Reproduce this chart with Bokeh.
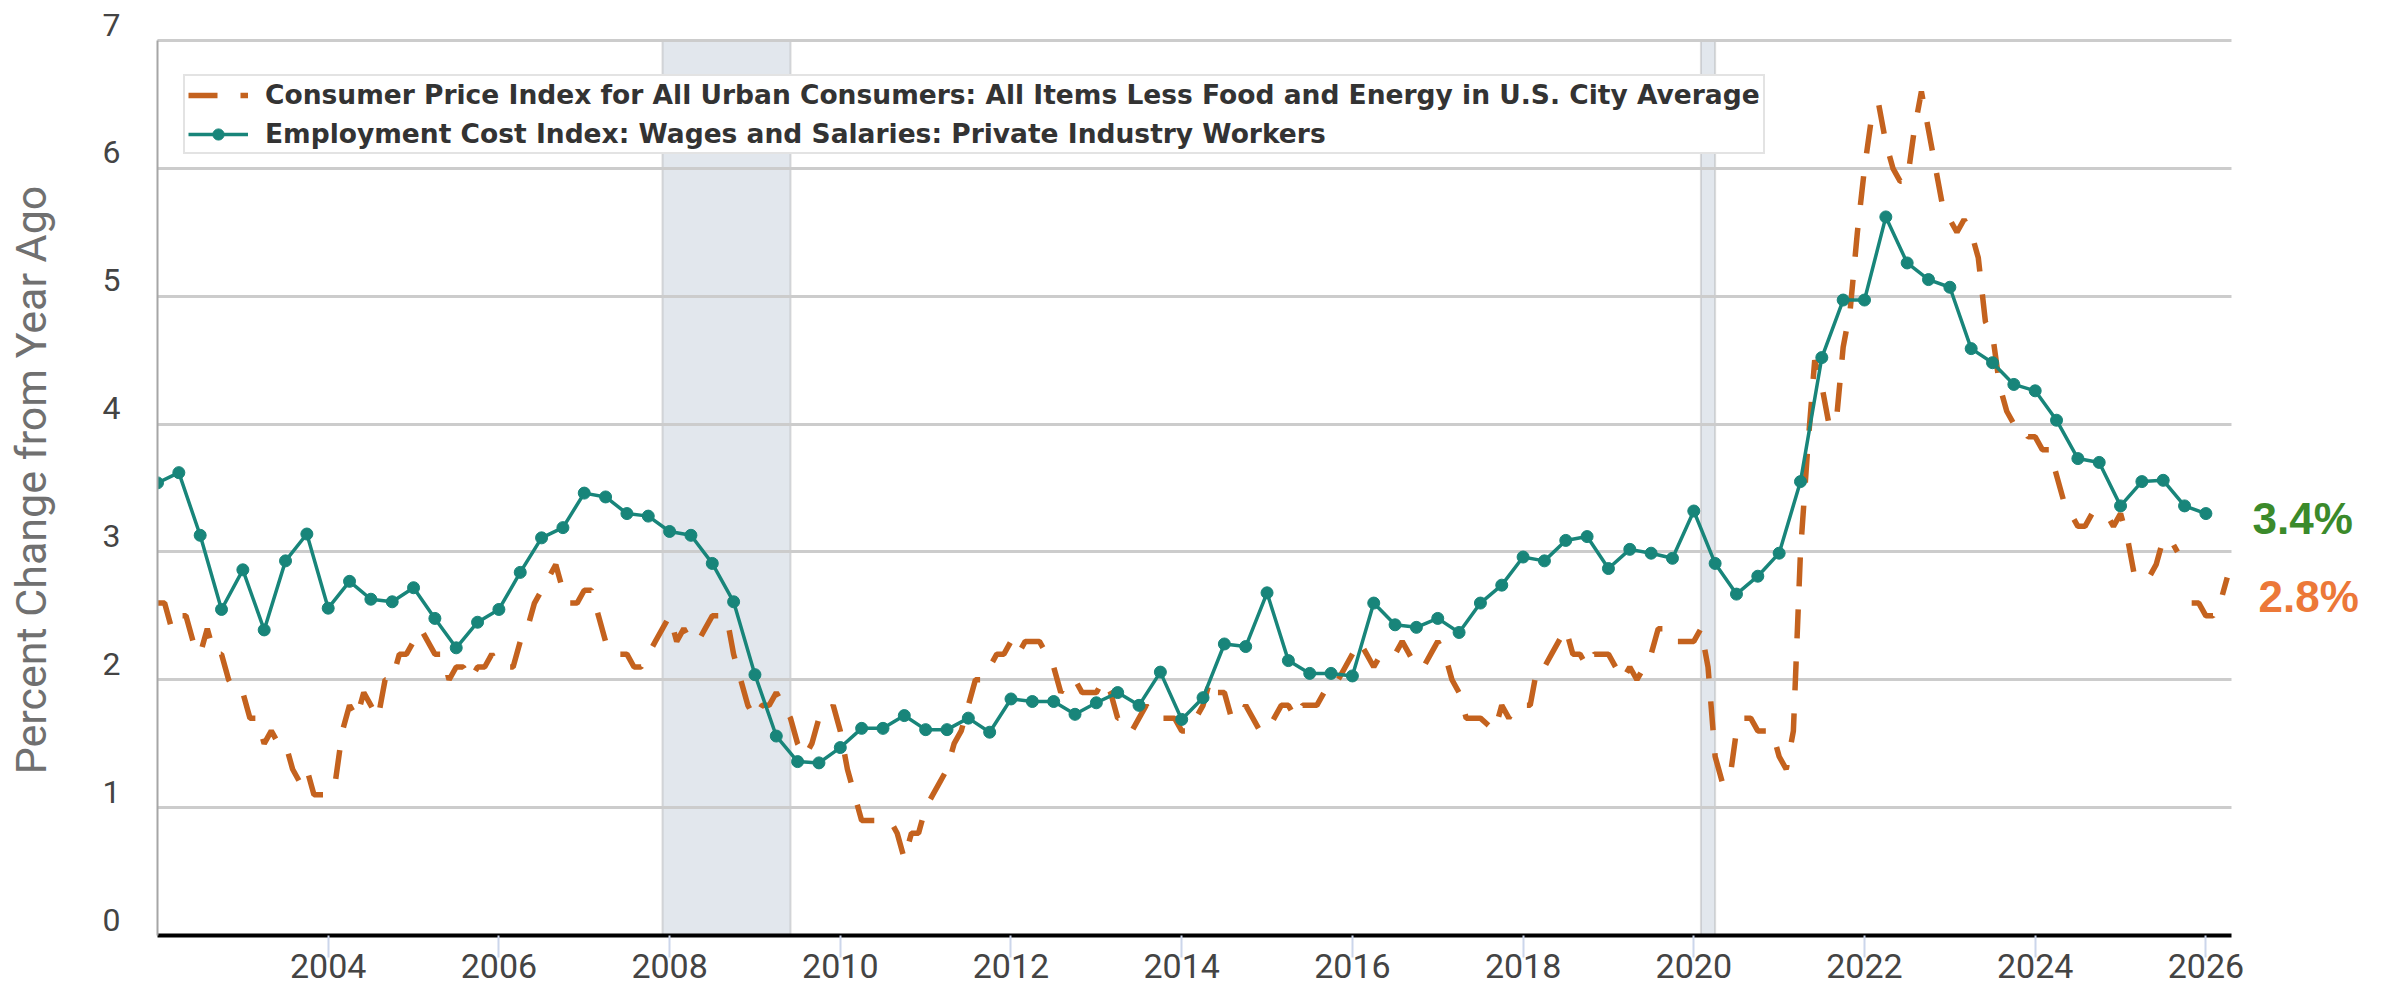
import numpy as np
from bokeh.plotting import figure
from bokeh.models import (Range1d, FixedTicker, BoxAnnotation, Legend, LegendItem,
                          ColumnDataSource, LinearAxis, Span)
from bokeh.core.properties import value
from bokeh.embed import file_html
from bokeh.resources import INLINE

nan = float("nan")

# ---------------- data ----------------
cpi_name = "Consumer Price Index for All Urban Consumers: All Items Less Food and Energy in U.S. City Average"
eci_name = "Employment Cost Index: Wages and Salaries: Private Industry Workers"

cpi_start = 2002  # monthly, from Jan 2002
cpi_values = [
    2.6, 2.6, 2.4, 2.5, 2.5, 2.3, 2.2, 2.4, 2.2, 2.2, 2.0, 1.9,   # 2002
    1.9, 1.7, 1.7, 1.5, 1.6, 1.5, 1.5, 1.3, 1.2, 1.3, 1.1, 1.1,   # 2003
    1.1, 1.2, 1.6, 1.8, 1.7, 1.9, 1.8, 1.7, 2.0, 2.0, 2.2, 2.2,   # 2004
    2.3, 2.4, 2.3, 2.2, 2.2, 2.0, 2.1, 2.1, 2.0, 2.1, 2.1, 2.2,   # 2005
    2.1, 2.1, 2.1, 2.3, 2.4, 2.6, 2.7, 2.8, 2.9, 2.7, 2.6, 2.6,   # 2006
    2.7, 2.7, 2.5, 2.3, 2.2, 2.2, 2.2, 2.1, 2.1, 2.2, 2.3, 2.4,   # 2007
    2.5, 2.3, 2.4, 2.3, 2.3, 2.4, 2.5, 2.5, 2.5, 2.2, 2.0, 1.8,   # 2008
    1.7, 1.8, 1.8, 1.9, 1.8, 1.7, 1.5, 1.4, 1.5, 1.7, 1.7, 1.8,   # 2009
    1.6, 1.3, 1.1, 0.9, 0.9, 0.9, 0.9, 0.9, 0.8, 0.6, 0.8, 0.8,   # 2010
    1.0, 1.1, 1.2, 1.3, 1.5, 1.6, 1.8, 2.0, 2.0, 2.1, 2.2, 2.2,   # 2011
    2.3, 2.2, 2.3, 2.3, 2.3, 2.2, 2.1, 1.9, 2.0, 2.0, 1.9, 1.9,   # 2012
    1.9, 2.0, 1.9, 1.7, 1.7, 1.6, 1.7, 1.8, 1.7, 1.7, 1.7, 1.7,   # 2013
    1.6, 1.6, 1.7, 1.8, 2.0, 1.9, 1.9, 1.7, 1.7, 1.8, 1.7, 1.6,   # 2014
    1.6, 1.7, 1.8, 1.8, 1.7, 1.8, 1.8, 1.8, 1.9, 1.9, 2.0, 2.1,   # 2015
    2.2, 2.3, 2.2, 2.1, 2.2, 2.2, 2.2, 2.3, 2.2, 2.1, 2.1, 2.2,   # 2016
    2.3, 2.2, 2.0, 1.9, 1.7, 1.7, 1.7, 1.65, 1.6, 1.8, 1.7, 1.8,  # 2017
    1.8, 1.8, 2.1, 2.1, 2.2, 2.3, 2.4, 2.2, 2.2, 2.1, 2.2, 2.2,   # 2018
    2.2, 2.1, 2.0, 2.1, 2.0, 2.1, 2.2, 2.4, 2.4, 2.3, 2.3, 2.3,   # 2019
    2.3, 2.4, 2.1, 1.4, 1.2, 1.2, 1.6, 1.7, 1.7, 1.6, 1.6, 1.6,   # 2020
    1.4, 1.3, 1.6, 3.0, 3.8, 4.5, 4.3, 4.0, 4.0, 4.6, 4.9, 5.5,   # 2021
    6.0, 6.4, 6.5, 6.2, 6.0, 5.9, 5.9, 6.3, 6.6, 6.3, 6.0, 5.7,   # 2022
    5.6, 5.5, 5.6, 5.5, 5.3, 4.8, 4.7, 4.3, 4.1, 4.0, 4.0, 3.9,   # 2023
    3.9, 3.8, 3.8, 3.6, 3.4, 3.3, 3.2, 3.2, 3.3, 3.3, 3.3, 3.2,   # 2024
    3.3, 3.1, 2.8, 2.8, 2.8, 2.9, 3.1, 3.1, 3.0, nan, 2.6, 2.6,   # 2025
    2.5, 2.5, 2.6, 2.8,                                           # 2026
]

eci_start = 2002  # quarterly, from Q1 2002
eci_values = [
    3.54, 3.62, 3.13, 2.55,  # 2002
    2.86, 2.39, 2.93, 3.14,  # 2003
    2.56, 2.77, 2.63, 2.61,  # 2004
    2.72, 2.48, 2.25, 2.45,  # 2005
    2.55, 2.84, 3.11, 3.19,  # 2006
    3.46, 3.43, 3.30, 3.28,  # 2007
    3.16, 3.13, 2.91, 2.61,  # 2008
    2.04, 1.56, 1.36, 1.35,  # 2009
    1.47, 1.62, 1.62, 1.72,  # 2010
    1.61, 1.61, 1.70, 1.59,  # 2011
    1.85, 1.83, 1.83, 1.73,  # 2012
    1.82, 1.90, 1.80, 2.06,  # 2013
    1.69, 1.86, 2.28, 2.26,  # 2014
    2.68, 2.15, 2.05, 2.05,  # 2015
    2.03, 2.60, 2.43, 2.41,  # 2016
    2.48, 2.37, 2.60, 2.74,  # 2017
    2.96, 2.93, 3.09, 3.12,  # 2018
    2.87, 3.02, 2.99, 2.95,  # 2019
    3.32, 2.91, 2.67, 2.81,  # 2020
    2.99, 3.55, 4.52, 4.97,  # 2021
    4.97, 5.62, 5.26, 5.13,  # 2022
    5.07, 4.59, 4.48, 4.31,  # 2023
    4.26, 4.03, 3.73, 3.70,  # 2024
    3.36, 3.55, 3.56, 3.36,  # 2025
    3.30,                    # 2026
]

x_ticks = [2004, 2006, 2008, 2010, 2012, 2014, 2016, 2018, 2020, 2022, 2024, 2026]
y_ticks = [0, 1, 2, 3, 4, 5, 6, 7]
recession_starts = [2007 + 11 / 12, 2020 + 1 / 12]
recession_ends = [2009 + 5 / 12, 2020 + 3 / 12]
end_labels = ["3.4%", "2.8%"]
end_label_colors = ["#3b8a2b", "#ec7838"]

# ---------------- layout constants ----------------
W, H = 2387, 993
FL, FT, FB = 157, 24, 58          # frame left / top / bottom borders (px)
X0, X1 = 2002.0, 2026.30           # visible data span of the chart area
CHART_RIGHT = 2231                 # px where the chart area ends
x_end = X0 + (W - FL) * (X1 - X0) / (CHART_RIGHT - FL)
Y0, Y1 = 0.0, 7.0                  # chart area value span
lbl_shift = 0.125                  # y tick labels sit ~16px above their gridlines
Y_TOP = Y1 + lbl_shift             # frame reaches a bit above 7 (room for the top label)
GRID_COLOR, GRID_W = "#cccccc", 3

# ---------------- figure ----------------
cpi_x = cpi_start + np.arange(len(cpi_values)) / 12.0
eci_x = eci_start + np.arange(len(eci_values)) / 4.0
cpi_src = ColumnDataSource(dict(x=cpi_x, y=np.array(cpi_values, dtype=float)))
eci_src = ColumnDataSource(dict(x=eci_x, y=np.array(eci_values, dtype=float)))

p = figure(width=W, height=H,
           x_range=Range1d(X0, x_end), y_range=Range1d(Y0, Y_TOP),
           output_backend="svg", toolbar_location=None,
           min_border_left=FL, min_border_right=0,
           min_border_top=FT, min_border_bottom=FB)
p.outline_line_color = None
p.background_fill_color = "white"
p.border_fill_color = "white"

# x axis
xa = p.xaxis[0]
xa.ticker = FixedTicker(ticks=x_ticks)
xa.bounds = (X0, X1)
xa.axis_line_color = "black"
xa.axis_line_width = 4
xa.major_tick_out = 22
xa.major_tick_in = 0
xa.major_tick_line_color = "#ccd6eb"
xa.major_tick_line_width = 2
xa.minor_tick_line_color = None
xa.major_label_standoff = -4
xa.major_label_text_font = "Roboto"
xa.major_label_text_font_size = "34px"
xa.major_label_text_color = "#444444"

# y axis 1: line only (chart's left border)
ya = p.yaxis[0]
ya.ticker = FixedTicker(ticks=y_ticks)
ya.bounds = (Y0, Y1)
ya.axis_line_color = "#a6a6a6"
ya.axis_line_width = 2
ya.major_tick_out = 0
ya.major_tick_in = 0
ya.major_tick_line_color = None
ya.minor_tick_line_color = None
ya.major_label_standoff = 0
ya.major_label_text_font_size = "0px"
ya.major_label_overrides = {t: "" for t in y_ticks}

# y axis 2: tick labels placed slightly above their gridlines
p.extra_y_ranges = {"lbl": Range1d(Y0 - lbl_shift, Y1)}
la = LinearAxis(y_range_name="lbl", ticker=FixedTicker(ticks=y_ticks))
la.axis_line_color = None
la.major_tick_out = 0
la.major_tick_in = 0
la.major_tick_line_color = None
la.minor_tick_line_color = None
la.major_label_standoff = 37
la.major_label_text_font = "Roboto"
la.major_label_text_font_size = "32px"
la.major_label_text_color = "#444444"
p.add_layout(la, "left")

# y axis 3: axis title only, centred on the chart area
ta = LinearAxis(ticker=FixedTicker(ticks=[]), bounds=(Y0, Y1))
ta.axis_line_color = None
ta.major_tick_out = 0
ta.major_tick_in = 0
ta.major_tick_line_color = None
ta.minor_tick_line_color = None
ta.major_label_standoff = 0
ta.axis_label = "Percent Change from Year Ago"
ta.axis_label_text_font = "Roboto"
ta.axis_label_text_font_size = "43px"
ta.axis_label_text_font_style = "normal"
ta.axis_label_text_color = "#707070"
ta.axis_label_standoff = 44
p.add_layout(ta, "left")

p.xgrid.grid_line_color = None
p.ygrid.ticker = FixedTicker(ticks=y_ticks)
p.ygrid.bounds = (Y0, Y1 + 0.06)
p.ygrid.grid_line_color = GRID_COLOR
p.ygrid.grid_line_width = GRID_W

# top gridline (value 7) — Bokeh skips grid lines at the range/bounds ends
p.add_layout(Span(location=Y1, dimension="width", line_color=GRID_COLOR,
                  line_width=GRID_W, level="underlay"))
p.segment(x0=[X0], y0=[Y1], x1=[X1], y1=[Y1], line_color=GRID_COLOR,
          line_width=GRID_W, level="underlay")

# recessions (below the grid)
for s, e in zip(recession_starts, recession_ends):
    p.add_layout(BoxAnnotation(left=s, right=e, bottom=Y0, top=Y1,
                               fill_color="#e2e7ed", fill_alpha=1.0,
                               line_color="#8f8f8f", line_width=2, level="image"))

# blank margin right of the chart area (covers gridlines)
p.add_layout(BoxAnnotation(left=X1, fill_color="white", fill_alpha=1.0,
                           line_color=None, level="underlay"))

# series
cpi_r = p.line("x", "y", source=cpi_src, line_color="#c4621e", line_width=5.5, line_dash="29 23")
eci_l = p.line("x", "y", source=eci_src, line_color="#18857a", line_width=3.5)
eci_s = p.scatter("x", "y", source=eci_src, size=12, fill_color="#18857a", line_color="#18857a")

legend = Legend(items=[LegendItem(label=cpi_name, renderers=[cpi_r]),
                       LegendItem(label=eci_name, renderers=[eci_l, eci_s])],
                location=(26, 781), orientation="vertical",
                label_text_font="DejaVu Sans", label_text_font_style="bold",
                label_text_font_size="26.5px", label_text_color="#333333",
                glyph_width=60, glyph_height=28, label_standoff=17,
                padding=3, spacing=8, margin=0,
                border_line_color="#c8c8c8", border_line_width=2,
                background_fill_color="white", background_fill_alpha=1.0)
p.add_layout(legend)

# end-of-series labels (right margin)
end_x = [2026.546, 2026.617]
end_y = [3.265, 2.65]
p.text(x=end_x, y=end_y, text=end_labels, text_color=end_label_colors,
       text_font=value("Liberation Sans"), text_font_style="bold",
       text_font_size="44px", text_baseline="middle", text_align="left")

open("out.html", "w").write(file_html(p, INLINE))
